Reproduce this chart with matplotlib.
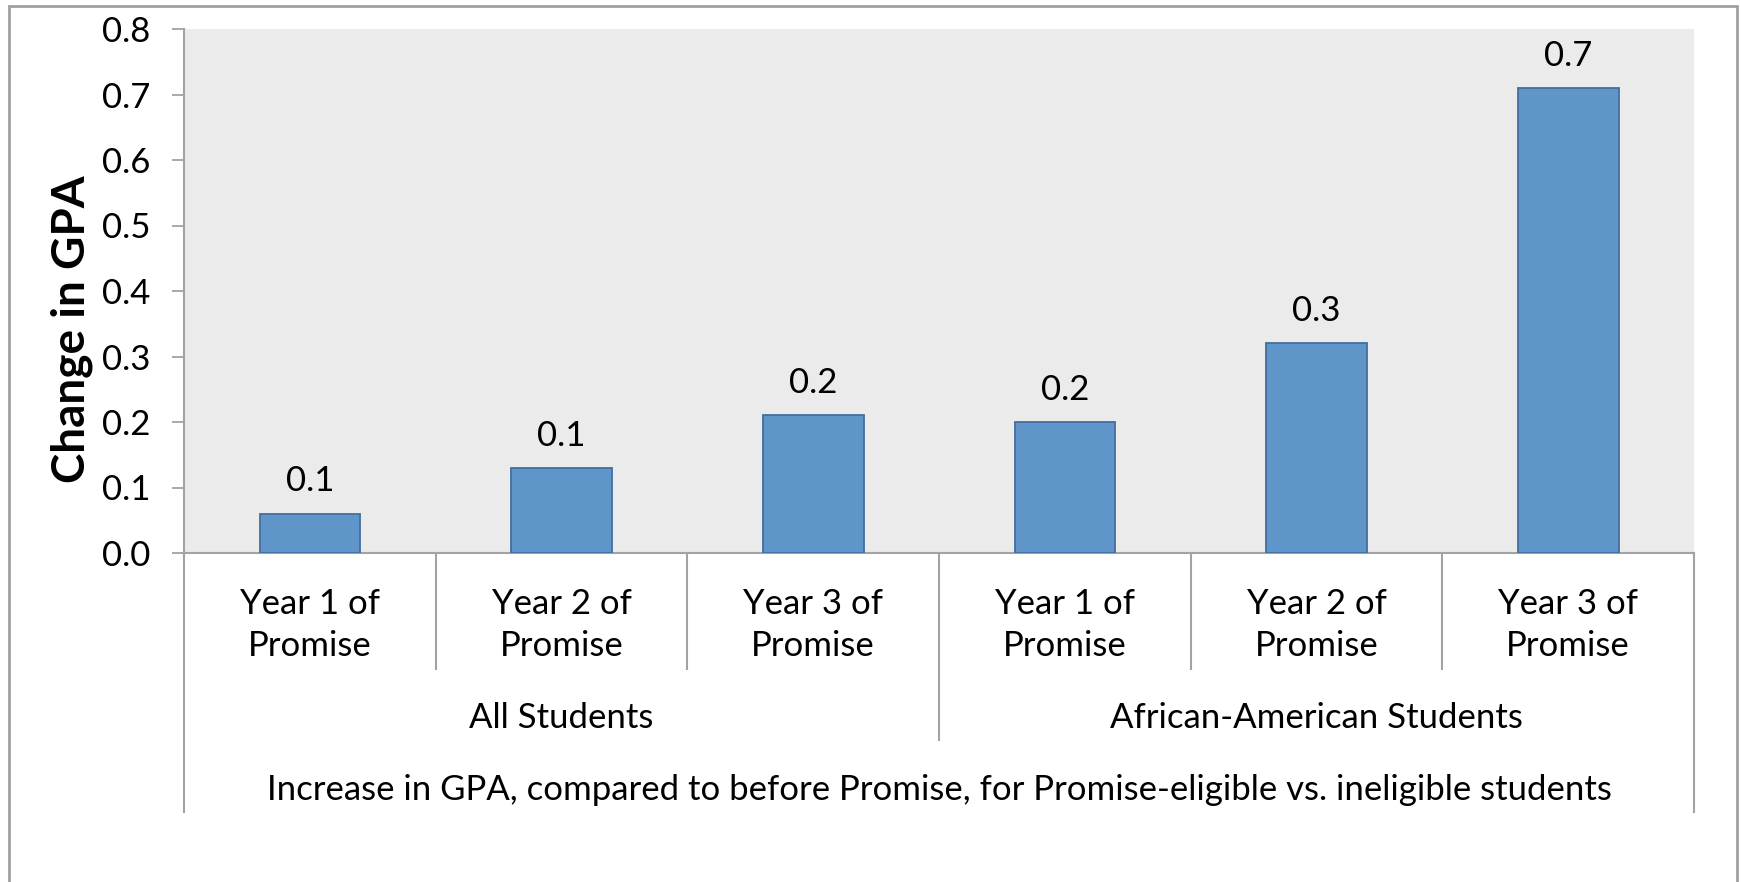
import matplotlib.pyplot as plt
import matplotlib.transforms as mtransforms
from matplotlib.patches import Rectangle

# ── Data ────────────────────────────────────────────────────────────────────
years = ["Year 1 of\nPromise", "Year 2 of\nPromise", "Year 3 of\nPromise",
         "Year 1 of\nPromise", "Year 2 of\nPromise", "Year 3 of\nPromise"]
groups = ["All Students", "African-American Students"]
gpa_change = [0.06, 0.13, 0.21, 0.20, 0.32, 0.71]
yticks = [0.0, 0.1, 0.2, 0.3, 0.4, 0.5, 0.6, 0.7, 0.8]
outer_label = "Increase in GPA, compared to before Promise, for Promise-eligible vs. ineligible students"

BAR_FACE = "#6095C9"
BAR_EDGE = "#41709F"
LINE_GRAY = "#A3A3A3"
FS = 25
plt.rcParams.update({"font.family": ["Lato", "DejaVu Sans"], "font.size": FS})

W, H = 1741, 882
fig = plt.figure(figsize=(W / 100, H / 100), dpi=100)
ax = fig.add_axes([184 / W, 1 - 553 / H, (1694 - 184) / W, (553 - 29) / H])
ax.set_facecolor("#EBEBEB")

x = list(range(len(gpa_change)))
ax.bar(x, gpa_change, width=0.40, color=BAR_FACE, edgecolor=BAR_EDGE, linewidth=1.3, zorder=3)
for xi, v in zip(x, gpa_change):
    ax.annotate(f"{v:.1f}", (xi, v), xytext=(0, 16), textcoords="offset points",
                ha="center", va="baseline", fontsize=FS)

ax.set_xlim(-0.5, len(x) - 0.5)
ax.set_ylim(0, 0.8)
ax.set_yticks(yticks)
ax.set_yticklabels([f"{t:.1f}" for t in yticks])
ax.set_xticks([])
ax.tick_params(axis="y", length=9, width=1.3, color=LINE_GRAY, pad=15)
for side in ["top", "right"]:
    ax.spines[side].set_visible(False)
for side in ["left", "bottom"]:
    ax.spines[side].set_color(LINE_GRAY)
    ax.spines[side].set_linewidth(1.5)

ax.set_ylabel("Change in GPA", fontsize=33, fontweight="bold", va="center")
ax.yaxis.set_label_coords((72 - 184) / 1510, (553 - 329) / 524)

# ── Multi-level category axis ──────────────────────────────────────────────
trans = mtransforms.blended_transform_factory(ax.transData, ax.transAxes)
ax_h = 553 - 29
lvl1 = -(669 - 553) / ax_h
lvl2 = -(740 - 553) / ax_h
lvl3 = -(812 - 553) / ax_h

line_kw = dict(color=LINE_GRAY, linewidth=1.5, transform=trans, clip_on=False)
for b in [0.5, 1.5, 3.5, 4.5]:
    ax.plot([b, b], [0, lvl1], **line_kw)
ax.plot([2.5, 2.5], [0, lvl2], **line_kw)
for b in [-0.5, len(x) - 0.5]:
    ax.plot([b, b], [0, lvl3], **line_kw)

for xi, lab in zip(x, years):
    ax.text(xi, -(625 - 553) / ax_h, lab, transform=trans, ha="center", va="center",
            fontsize=FS, linespacing=1.4)
for gi, g in enumerate(groups):
    ax.text(gi * 3 + 1, -(718 - 553) / ax_h, g, transform=trans, ha="center", va="center", fontsize=FS)
ax.text((len(x) - 1) / 2, -(790 - 553) / ax_h, outer_label, transform=trans,
        ha="center", va="center", fontsize=FS)

# chart frame
fig.patches.append(Rectangle((9 / W, -0.05), (1737 - 9) / W, 1.05 - 6 / H,
                             transform=fig.transFigure, fill=False,
                             edgecolor="#A0A0A0", linewidth=2))

fig.savefig("out.png", dpi=100)
